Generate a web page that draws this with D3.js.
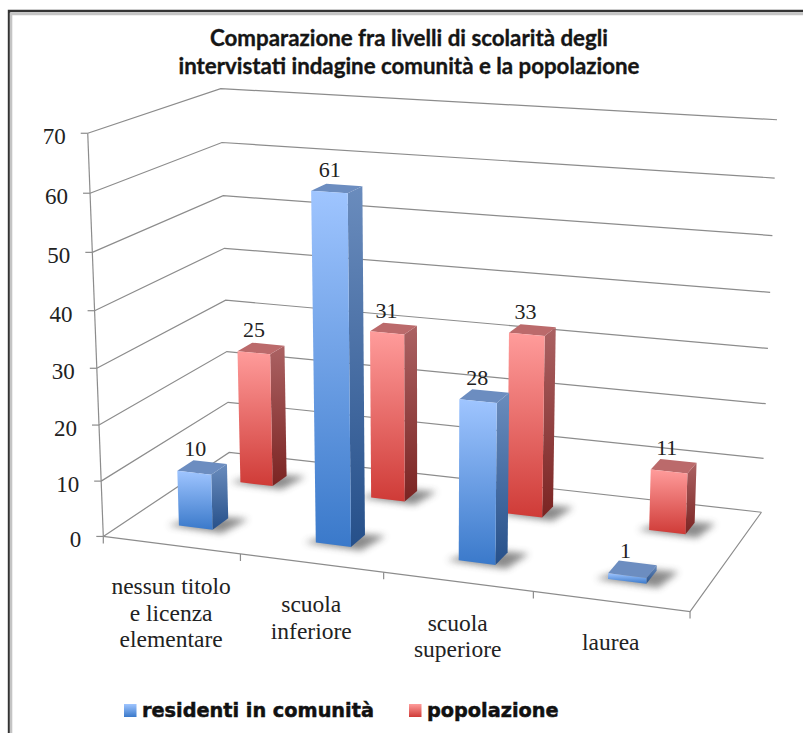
<!DOCTYPE html>
<html>
<head>
<meta charset="utf-8">
<script src="https://cdn.jsdelivr.net/npm/d3@7"></script>
<style>
  html, body { margin: 0; padding: 0; background: #fff; }
  svg { display: block; }
</style>
</head>
<body>
<svg id="canvas" width="803" height="733"></svg>
<script>
// Survey values
const categories = ["nessun titolo\ne licenza\nelementare", "scuola\ninferiore", "scuola\nsuperiore", "laurea"];
const seriesNames = ["residenti in comunità", "popolazione"];
const residenti = [10, 61, 28, 1];
const popolazione = [25, 31, 33, 11];
const titleLines = ["Comparazione fra livelli di scolarità degli", "intervistati indagine comunità e la popolazione"];
const valueTicks = [0, 10, 20, 30, 40, 50, 60, 70];

// Where the box edges land on screen, used to fit the camera
// [across, deep, value, x, y]
const cameraAnchors = [
  [0, 0, 0, 103, 536], [0, 0, 10, 101, 481], [0, 0, 20, 99, 425], [0, 0, 30, 97, 368],
  [0, 0, 40, 95, 311], [0, 0, 50, 92, 253], [0, 0, 60, 90, 193], [0, 0, 70, 88, 133],
  [0, 1, 0, 229, 453], [0, 1, 10, 228, 402], [0, 1, 20, 227, 352], [0, 1, 30, 226, 300],
  [0, 1, 40, 225, 248], [0, 1, 50, 223, 196], [0, 1, 60, 222, 143], [0, 1, 70, 220, 88],
  [1, 1, 0, 761, 512], [1, 1, 10, 764, 458], [1, 1, 20, 766, 404], [1, 1, 30, 768, 348],
  [1, 1, 40, 770, 292], [1, 1, 50, 772, 236], [1, 1, 60, 775, 178], [1, 1, 70, 777, 120],
  [1, 0, 0, 690, 612],
];

const serif = "'Liberation Serif', serif";

// Least squares fit of a 3x4 camera matrix, solved with plain elimination
const fitCamera = (anchors) => {
  const n = 11;
  const A = d3.range(n).map(() => new Array(n + 1).fill(0));
  const addRow = (row, rhs) => {
    for (let i = 0; i < n; i++) {
      for (let j = 0; j < n; j++) A[i][j] += row[i] * row[j];
      A[i][n] += row[i] * rhs;
    }
  };
  anchors.forEach(([a, b, v, x, y]) => {
    const w = v / 70;
    const X = x / 100;
    const Y = y / 100;
    addRow([a, b, w, 1, 0, 0, 0, 0, -X * a, -X * b, -X * w], X);
    addRow([0, 0, 0, 0, a, b, w, 1, -Y * a, -Y * b, -Y * w], Y);
  });
  for (let c = 0; c < n; c++) {
    let pivot = c;
    for (let r = c + 1; r < n; r++) if (Math.abs(A[r][c]) > Math.abs(A[pivot][c])) pivot = r;
    [A[c], A[pivot]] = [A[pivot], A[c]];
    for (let r = 0; r < n; r++) {
      if (r === c) continue;
      const f = A[r][c] / A[c][c];
      for (let k = c; k <= n; k++) A[r][k] -= f * A[c][k];
    }
  }
  return A.map((row, i) => row[n] / row[i]);
};

const m = fitCamera(cameraAnchors);

// 0..1 across, 0..1 deep, 0..1 up -> screen
const project = (a, b, w) => {
  const d = m[8] * a + m[9] * b + m[10] * w + 1;
  return [
    (100 * (m[0] * a + m[1] * b + m[2] * w + m[3])) / d,
    (100 * (m[4] * a + m[5] * b + m[6] * w + m[7])) / d,
  ];
};

const svg = d3.select("#canvas");
const defs = svg.append("defs");

const xScale = d3.scaleBand().domain(categories).range([0, 1]);
const zScale = d3.scaleBand().domain(seriesNames).range([0, 1]);
const yScale = d3.scaleLinear().domain([0, 70]).range([0, 1]);

const barWidth = xScale.bandwidth() * 0.25;
const barDepth = zScale.bandwidth() * 0.25;

const addGradient = (id, top, bottom) => {
  const g = defs.append("linearGradient").attr("id", id)
    .attr("x1", 0).attr("y1", 0).attr("x2", 0).attr("y2", 1);
  g.append("stop").attr("offset", "0%").attr("stop-color", top);
  g.append("stop").attr("offset", "100%").attr("stop-color", bottom);
};
addGradient("front0", "#9fc5ff", "#3a79ca");
addGradient("side0", "#6a8cbd", "#26508a");
addGradient("front1", "#ff9c9b", "#cf3b37");
addGradient("side1", "#ab6263", "#7b2422");

const topColors = ["#6c8dc0", "#bb6a6b"];

defs.append("filter").attr("id", "soft")
  .attr("x", "-40%").attr("y", "-80%").attr("width", "180%").attr("height", "260%")
  .append("feGaussianBlur").attr("stdDeviation", 3.6);

// Frame round the chart
svg.append("path").attr("d", "M9,733V11H803").attr("fill", "none").attr("stroke", "#333").attr("stroke-width", 2.4);
svg.append("path").attr("d", "M11,733V14H803").attr("fill", "none").attr("stroke", "#c4c4c4").attr("stroke-width", 2.6);

// Title
svg.append("g").selectAll("text").data(titleLines).join("text")
  .attr("x", 409)
  .attr("y", (d, i) => 46 + i * 28)
  .attr("text-anchor", "middle")
  .attr("font-family", "Lato, sans-serif")
  .attr("font-weight", 700)
  .attr("font-size", 22.3)
  .attr("fill", "#151515").attr("stroke", "#151515").attr("stroke-width", 0.35)
  .text((d) => d);

const line = d3.line();
const gridColor = "#8c8c8c";

// Gridlines run along the left wall and then the back wall
svg.append("g").selectAll("path").data(valueTicks).join("path")
  .attr("d", (t) => {
    const w = yScale(t);
    return line([project(0, 0, w), project(0, 1, w), project(1, 1, w)]);
  })
  .attr("fill", "none").attr("stroke", gridColor).attr("stroke-width", 1.2);

// Front upright and tick marks of the value axis
svg.append("path")
  .attr("d", line([project(0, 0, 0), project(0, 0, 1)]))
  .attr("stroke", gridColor).attr("stroke-width", 1.2);
svg.append("g").selectAll("path").data(valueTicks).join("path")
  .attr("d", (t) => {
    const [x, y] = project(0, 0, yScale(t));
    return line([[x - 7, y], [x, y]]);
  })
  .attr("stroke", gridColor).attr("stroke-width", 1.2);

// Floor edges and category ticks
svg.append("path")
  .attr("d", line([project(0, 0, 0), project(1, 0, 0), project(1, 1, 0)]))
  .attr("fill", "none").attr("stroke", gridColor).attr("stroke-width", 1.2);
svg.append("g").selectAll("path").data(d3.range(categories.length + 1)).join("path")
  .attr("d", (i) => {
    const [x, y] = project(i / categories.length, 0, 0);
    return line([[x, y], [x, y + 7]]);
  })
  .attr("stroke", gridColor).attr("stroke-width", 1.2);

// Value axis labels
svg.append("g").selectAll("text").data(valueTicks).join("text")
  .attr("x", (t) => project(0, 0, yScale(t))[0] - 22)
  .attr("y", (t) => project(0, 0, yScale(t))[1] + 11)
  .attr("text-anchor", "end")
  .attr("font-family", serif).attr("font-size", 23).attr("fill", "#222")
  .text((t) => t);

// Category labels hang below the front edge
categories.forEach((c) => {
  const [x, y] = project(xScale(c) + xScale.bandwidth() / 2, 0, 0);
  svg.append("text")
    .attr("font-family", serif).attr("font-size", 23.5).attr("fill", "#222")
    .attr("text-anchor", "middle")
    .selectAll("tspan").data(c.split("\n")).join("tspan")
    .attr("x", x)
    .attr("y", (d, i) => y + 49 + i * 26.5)
    .text((d) => d);
});

// One record per bar, back row first so the front row covers it
const bars = [
  ...popolazione.map((v, i) => ({ value: v, cat: categories[i], s: 1 })),
  ...residenti.map((v, i) => ({ value: v, cat: categories[i], s: 0 })),
];

const barBox = (d) => {
  const x0 = xScale(d.cat) + (xScale.bandwidth() - barWidth) / 2;
  const z0 = zScale(seriesNames[d.s]) + (zScale.bandwidth() - barDepth) / 2;
  return { x0, x1: x0 + barWidth, z0, z1: z0 + barDepth, w: yScale(d.value) };
};

const polygon = (pts) => line(pts) + "Z";

const drawBar = (g, d) => {
  const { x0, x1, z0, z1, w } = barBox(d);

  // Soft shadow on the floor
  g.append("path")
    .attr("d", polygon([
      project(x0 - 0.018, z0 - 0.012, 0), project(x1 + 0.022, z0 - 0.022, 0),
      project(x1 + 0.034, z1 + 0.014, 0), project(x0 + 0.02, z1, 0),
    ]))
    .attr("fill", "#444").attr("opacity", 0.62).attr("filter", "url(#soft)");

  g.append("path")
    .attr("d", polygon([project(x1, z0, 0), project(x1, z1, 0), project(x1, z1, w), project(x1, z0, w)]))
    .attr("fill", `url(#side${d.s})`);
  g.append("path")
    .attr("d", polygon([project(x0, z0, w), project(x1, z0, w), project(x1, z1, w), project(x0, z1, w)]))
    .attr("fill", topColors[d.s]);
  g.append("path")
    .attr("d", polygon([project(x0, z0, 0), project(x1, z0, 0), project(x1, z0, w), project(x0, z0, w)]))
    .attr("fill", `url(#front${d.s})`);
};

const barLayer = svg.append("g");
bars.forEach((d) => drawBar(barLayer.append("g"), d));

// Value labels sit just above each bar's top face
svg.append("g").selectAll("text").data(bars).join("text")
  .attr("x", (d) => {
    const { x0, x1, z0, z1, w } = barBox(d);
    return project((x0 + x1) / 2, (z0 + z1) / 2, w)[0] - 7;
  })
  .attr("y", (d) => {
    const { x0, x1, z0, z1, w } = barBox(d);
    return project((x0 + x1) / 2, (z0 + z1) / 2, w)[1] - 11;
  })
  .attr("text-anchor", "middle")
  .attr("font-family", serif).attr("font-size", 22).attr("fill", "#222")
  .text((d) => d.value);

// Legend
const legendX = [124, 409];
const legend = svg.append("g").selectAll("g").data(seriesNames).join("g")
  .attr("transform", (d, i) => `translate(${legendX[i]},704)`);
legend.append("rect")
  .attr("width", 12.5).attr("height", 13)
  .attr("fill", (d, i) => `url(#front${i})`);
legend.append("text")
  .attr("x", 18).attr("y", 13)
  .attr("font-family", "'DejaVu Sans', sans-serif")
  .attr("font-weight", 700).attr("font-size", 19.3)
  .attr("fill", "#111").attr("stroke", "#111").attr("stroke-width", 0.5)
  .text((d) => d);
</script>
</body>
</html>
